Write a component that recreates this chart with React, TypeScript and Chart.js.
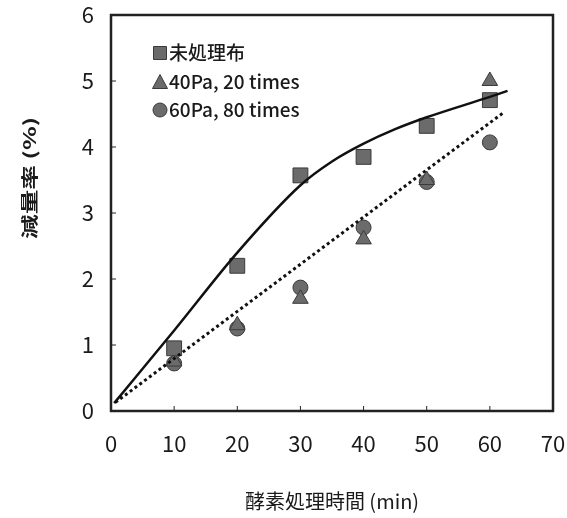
import React, { useEffect, useRef } from "react";
import { Chart, registerables } from "chart.js";

Chart.register(...registerables);

// Data
const timeMin = [10, 20, 30, 40, 50, 60];
const untreated = [0.95, 2.2, 3.57, 3.85, 4.32, 4.71];
const pa40times20 = [0.75, 1.3, 1.7, 2.6, 3.5, 5.0];
const pa60times80 = [0.72, 1.25, 1.87, 2.78, 3.47, 4.07];
const fitX = [0.5, 10, 20, 30, 35, 40, 45, 50, 60, 62.8];
const fitY = [0.12, 1.22, 2.4, 3.42, 3.78, 4.05, 4.27, 4.45, 4.76, 4.85];
const trendX = [0.7, 62];
const trendY = [0.13, 4.51];
const seriesLabels = ["未処理布", "40Pa, 20 times", "60Pa, 80 times"];
const xTitle = "酵素処理時間 (min)";
const yTitle = "減量率 (%)";

const FONT = "'Noto Sans CJK JP', 'DejaVu Sans', sans-serif";
const MARK_FILL = "#6b6b6b";
const MARK_EDGE = "#3a3a3a";

function drawMarker(ctx: CanvasRenderingContext2D, shape: string, x: number, y: number) {
  ctx.save();
  ctx.fillStyle = MARK_FILL;
  ctx.strokeStyle = MARK_EDGE;
  ctx.lineWidth = 1;
  ctx.beginPath();
  if (shape === "rect") {
    ctx.rect(x - 6.5, y - 6.5, 13, 13);
  } else if (shape === "triangle") {
    ctx.moveTo(x, y - 7.5);
    ctx.lineTo(x + 7.5, y + 6.5);
    ctx.lineTo(x - 7.5, y + 6.5);
    ctx.closePath();
  } else {
    ctx.arc(x, y, 7, 0, Math.PI * 2);
  }
  ctx.fill();
  ctx.stroke();
  ctx.restore();
}

const framePlugin = {
  id: "frame",
  afterDraw(chart: any) {
    const { ctx, chartArea: a, scales } = chart;
    ctx.save();
    ctx.strokeStyle = "#222";
    ctx.lineWidth = 1;
    // inward tick marks
    for (let v = 10; v <= 60; v += 10) {
      const px = scales.x.getPixelForValue(v);
      ctx.beginPath();
      ctx.moveTo(px, a.bottom);
      ctx.lineTo(px, a.bottom - 5);
      ctx.stroke();
    }
    for (let v = 1; v <= 5; v += 1) {
      const py = scales.y.getPixelForValue(v);
      ctx.beginPath();
      ctx.moveTo(a.left, py);
      ctx.lineTo(a.left + 5, py);
      ctx.stroke();
    }
    ctx.lineWidth = 2.5;
    ctx.strokeRect(a.left, a.top, a.right - a.left, a.bottom - a.top);

    // legend inside the plot
    const shapes = ["rect", "triangle", "circle"];
    const rows = [53, 82, 110];
    ctx.fillStyle = "#1a1a1a";
    ctx.textBaseline = "middle";
    ctx.textAlign = "left";
    for (let i = 0; i < 3; i++) {
      drawMarker(ctx, shapes[i], a.left + 49, rows[i]);
      ctx.font = "500 19px " + FONT;
      ctx.fillText(seriesLabels[i], a.left + 58, rows[i]);
    }

    // y axis title, rotated (glyphs appear stretched along the text in the scan)
    ctx.save();
    ctx.translate(30, 178);
    ctx.rotate(-Math.PI / 2);
    ctx.scale(1.45, 1);
    ctx.textAlign = "center";
    ctx.textBaseline = "middle";
    ctx.font = "bold 17px " + FONT;
    ctx.fillStyle = "#1a1a1a";
    ctx.fillText(yTitle, 0, 0);
    ctx.restore();
    ctx.restore();
  },
};

export default function App() {
  const ref = useRef<HTMLCanvasElement>(null);
  useEffect(() => {
    document.body.style.margin = "0";
    const ctx = ref.current!.getContext("2d")!;
    const pts = (ys: number[]) => timeMin.map((x, i) => ({ x, y: ys[i] }));
    const chart = new Chart(ctx, {
      type: "scatter",
      data: {
        datasets: [
          {
            label: "fit",
            type: "line",
            data: fitX.map((x, i) => ({ x, y: fitY[i] })),
            borderColor: "#111",
            borderWidth: 2.5,
            pointRadius: 0,
            cubicInterpolationMode: "monotone",
            fill: false,
          } as any,
          {
            label: "trend",
            type: "line",
            data: trendX.map((x, i) => ({ x, y: trendY[i] })),
            borderColor: "#111",
            borderWidth: 3,
            borderDash: [3, 3],
            pointRadius: 0,
            fill: false,
          } as any,
          {
            label: seriesLabels[0],
            data: pts(untreated),
            pointStyle: "rect",
            pointRadius: 10.5,
            backgroundColor: MARK_FILL,
            borderColor: MARK_EDGE,
            borderWidth: 1,
          },
          {
            label: seriesLabels[1],
            data: pts(pa40times20),
            pointStyle: "triangle",
            pointRadius: 9,
            backgroundColor: MARK_FILL,
            borderColor: MARK_EDGE,
            borderWidth: 1,
          },
          {
            label: seriesLabels[2],
            data: pts(pa60times80),
            pointStyle: "circle",
            pointRadius: 7.5,
            backgroundColor: MARK_FILL,
            borderColor: MARK_EDGE,
            borderWidth: 1,
          },
        ],
      },
      options: {
        animation: false,
        responsive: false,
        layout: { padding: { top: 15, right: 0, left: 0, bottom: 0 } },
        plugins: { legend: { display: false }, tooltip: { enabled: false } },
        scales: {
          x: {
            type: "linear",
            min: 0,
            max: 70,
            afterFit: (s: any) => { s.height = 107; s.paddingRight = 14; s.paddingLeft = 0; },
            grid: { display: false, drawTicks: false },
            border: { display: false },
            ticks: { stepSize: 10, padding: 19, color: "#1a1a1a", font: { family: FONT, size: 22 } },
            title: { display: true, text: xTitle, color: "#1a1a1a", font: { family: FONT, size: 20 }, padding: { top: 0, bottom: 5 } },
          },
          y: {
            type: "linear",
            min: 0,
            max: 6,
            afterFit: (s: any) => { s.width = 111; s.paddingTop = 0; s.paddingBottom = 0; },
            grid: { display: false, drawTicks: false },
            border: { display: false },
            ticks: { stepSize: 1, padding: 17, color: "#1a1a1a", font: { family: FONT, size: 22 } },
          },
        },
      },
      plugins: [framePlugin],
    });
    return () => chart.destroy();
  }, []);
  return (
    <div style={{ width: 567, height: 518, background: "#fff" }}>
      <canvas ref={ref} width={567} height={518} />
    </div>
  );
}
